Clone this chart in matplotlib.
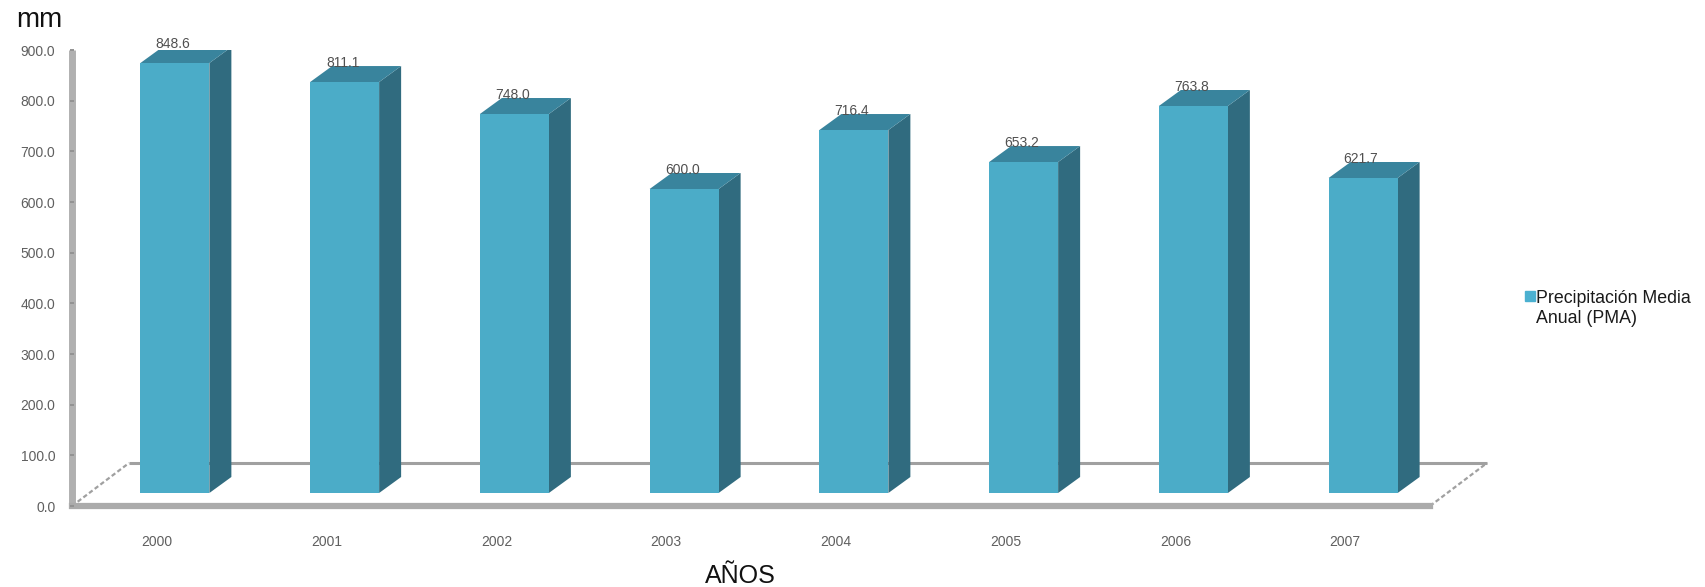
import matplotlib
matplotlib.use("Agg")
import matplotlib.pyplot as plt
from matplotlib.legend_handler import HandlerPatch
from matplotlib.patches import Patch, Rectangle
from matplotlib.transforms import Affine2D

plt.rcParams["font.family"] = ["Liberation Sans", "DejaVu Sans"]

# Annual mean precipitation by year (mm)
years = ["2000", "2001", "2002", "2003", "2004", "2005", "2006", "2007"]
precipitation = [848.6, 811.1, 748.0, 600.0, 716.4, 653.2, 763.8, 621.7]
y_ticks = [0, 100, 200, 300, 400, 500, 600, 700, 800, 900]
series_name = "Precipitación Media\nAnual (PMA)"

FRONT = "#4BACC8"
SIDE = "#306B7F"
TOP = "#39849D"
WALL = "#B0B0B0"
FLOOR = "#A0A0A0"
TEXT = "#5F5F5F"

W, H = 1705, 587
fig = plt.figure(figsize=(W / 100, H / 100), dpi=100, facecolor="white")
# Axes frame runs along the thick wall and front floor edges
left, right, top, bottom = 72, 1430, 50, 506
ax = fig.add_axes([left / W, 1 - bottom / H, (right - left) / W, (bottom - top) / H])
ax.set_xlim(-0.5, len(years) - 0.5)
ax.set_ylim(0, 900)
ax.patch.set_visible(False)

px_x = len(years) / (right - left)        # data units per pixel, horizontal
px_y = 900 / (bottom - top)               # data units per pixel, vertical

# The columns stand part-way into the floor, so shift them in display space
shift = ax.transData + Affine2D().translate(18, 13)

bar_w = 69 * px_x
depth_x = 22 * px_x
depth_y = 16 * px_y

for i, v in enumerate(precipitation):
    x0, x1 = i - bar_w / 2, i + bar_w / 2
    ax.fill([x1, x1 + depth_x, x1 + depth_x, x1],
            [0, depth_y, v + depth_y, v], color=SIDE, lw=0, transform=shift, zorder=3)
    ax.fill([x0, x1, x1 + depth_x, x0 + depth_x],
            [v, v, v + depth_y, v + depth_y], color=TOP, lw=0, transform=shift, zorder=3)
    ax.text(i - 2 * px_x, v + 12 * px_y, f"{v:.1f}", ha="center", va="bottom", fontsize=10,
            color="#505050", transform=shift, zorder=5)
ax.bar(range(len(years)), precipitation, width=bar_w, color=FRONT, linewidth=0,
       transform=shift, zorder=4)

# Floor: back edge and dotted side edges
back_x, back_y = 57 * px_x, 43 * px_y
ax.plot([-0.5 + back_x, len(years) - 0.5 + back_x], [back_y, back_y],
        color=FLOOR, lw=2.2, clip_on=False, zorder=2, solid_capstyle="butt")
for x_edge in (-0.5, len(years) - 0.5):
    ax.plot([x_edge, x_edge + back_x], [0, back_y], color=FLOOR, lw=1.6,
            ls=(0, (2, 1.2)), clip_on=False, zorder=2)

for name in ("top", "right"):
    ax.spines[name].set_visible(False)
ax.spines["left"].set_color(WALL)
ax.spines["left"].set_linewidth(5)
ax.spines["left"].set_capstyle("butt")
ax.spines["bottom"].set_color("#ABABAB")
ax.spines["bottom"].set_linewidth(4.5)
ax.spines["bottom"].set_capstyle("projecting")

ax.set_yticks(y_ticks, [f"{t:.1f}" for t in y_ticks], fontsize=10, color=TEXT)
ax.set_xticks(range(len(years)), years, fontsize=10, color=TEXT)
ax.tick_params(axis="y", length=0, pad=12)
ax.tick_params(axis="x", length=0, pad=21)

# Faint marks on the axis edges, between categories and at each value
ax.set_xticks([i + 0.5 for i in range(len(years) - 1)], minor=True)
ax.tick_params(axis="x", which="minor", length=4.5, width=1.5, color="#929292",
               direction="inout", bottom=True)
ax.set_yticks([], minor=True)
for t in y_ticks:
    ax.plot([-0.5, -0.5], [t, t], marker="_", ms=3.5, mew=1.2, color="#929292",
            clip_on=False, zorder=6)

fig.text(16 / W, 1 - 27 / H, "mm", fontsize=20, color="#111111", ha="left", va="baseline")
fig.text(740 / W, 1 - 583 / H, "AÑOS", fontsize=18, color="#111111", ha="center", va="baseline")


def first_line_swatch(legend, orig_handle, xdescent, ydescent, width, height, fontsize):
    # Sits beside the first line of the two-line series name
    return Rectangle((-xdescent, -ydescent + 9.5), width, height)


leg = fig.legend(handles=[Patch(color="#4BB0D0", label=series_name)], frameon=False,
                 loc="upper left", bbox_to_anchor=(1510.5 / W, 1 - 276 / H), fontsize=12.8,
                 labelcolor="#1A1A1A", handlelength=0.6, handleheight=0.5, handletextpad=0.05,
                 borderpad=0.3, labelspacing=0,
                 handler_map={Patch: HandlerPatch(patch_func=first_line_swatch)})
leg.get_texts()[0].set_linespacing(1.25)

fig.savefig("out.png", dpi=100)
